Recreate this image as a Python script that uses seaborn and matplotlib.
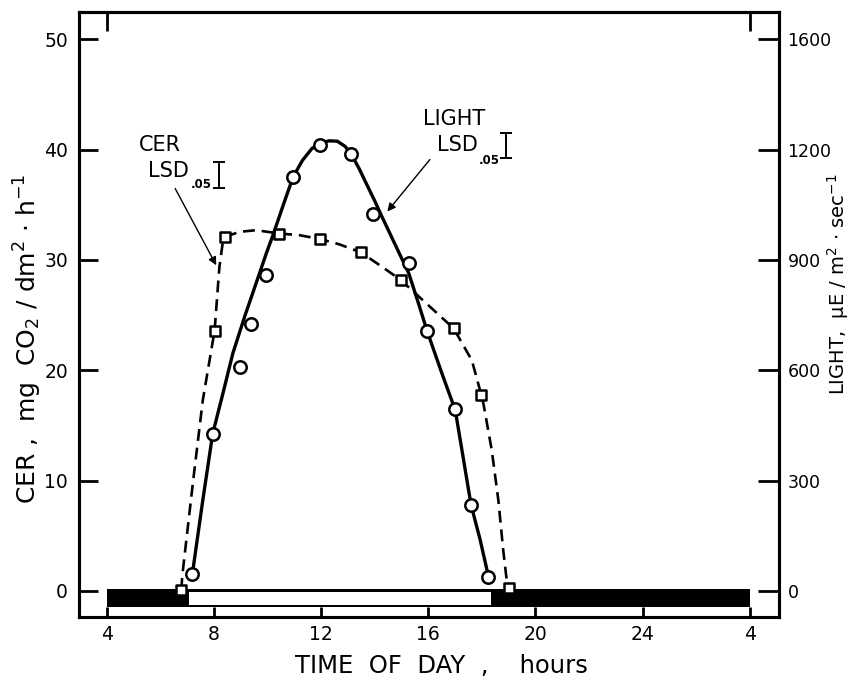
# CER and light over the day, circles = light (right axis), squares = CER (left axis)
import matplotlib
matplotlib.use("Agg")
import matplotlib.pyplot as plt
from matplotlib.patches import Rectangle
import seaborn as sns

# measured points
light_hours = [7.2, 7.96, 8.98, 9.39, 9.95, 10.96, 11.96, 13.11, 13.94, 15.28, 15.96, 17.01, 17.6, 18.25]
light_vals = [46, 426, 609, 726, 858, 1125, 1212, 1188, 1026, 891, 708, 495, 234, 39]

cer_hours = [6.79, 8.03, 8.43, 10.44, 11.96, 13.48, 14.97, 16.95, 17.98, 19.0]
cer_vals = [0.1, 23.6, 32.1, 32.4, 31.9, 30.7, 28.2, 23.8, 17.8, 0.3]

# hand-drawn fitted curves
light_curve_hours = [7.2, 7.59, 7.96, 8.34, 8.71, 9.17, 9.66, 9.96, 10.23, 10.59, 10.96,
                     11.31, 11.66, 11.96, 12.3, 12.61, 12.9, 13.11, 13.42, 13.69, 13.99,
                     14.28, 14.78, 15.28, 15.62, 15.96, 16.51, 17.01, 17.26, 17.6, 17.94,
                     18.25]
light_curve_vals = [46, 247, 428, 537, 646, 750, 854, 918, 972, 1049, 1126,
                    1171, 1203, 1217, 1224, 1223, 1209, 1190, 1149, 1108, 1063,
                    1017, 940, 863, 786, 707, 592, 492, 383, 234, 139,
                    39]

cer_curve_hours = [6.79, 6.82, 7.22, 7.59, 8.03, 8.21, 8.33, 8.43, 8.96, 9.58, 10.44, 11.19,
                   11.96, 12.67, 13.48, 14.28, 14.97, 15.96, 16.95, 17.63, 17.98, 18.06,
                   18.37, 18.62, 18.8, 18.93, 19.0]
cer_curve_vals = [0.1, 1.3, 9.8, 17.3, 23.6, 29.4, 31.5, 32.1, 32.55, 32.7, 32.4, 32.25,
                  31.9, 31.43, 30.7, 29.38, 28.2, 26.0, 23.8, 20.9, 17.8, 17.0,
                  12.8, 8.2, 3.7, 1.0, 0.3]

x_ticks = [4, 8, 12, 16, 20, 24, 28]
x_ticklabels = ["4", "8", "12", "16", "20", "24", "4"]
cer_ticks = [0, 10, 20, 30, 40, 50]
light_ticks = [0, 300, 600, 900, 1200, 1500]
light_ticklabels = ["0", "300", "600", "900", "1200", "1600"]

# light period bar along the bottom
dark_start, dark_end = 4, 28
lights_on, lights_off = 7.06, 18.36

sns.set_style("ticks")
plt.rcParams["font.family"] = ["DejaVu Sans"]
plt.rcParams["mathtext.default"] = "regular"
for k in ["text.color", "axes.labelcolor", "xtick.color", "ytick.color", "axes.edgecolor"]:
    plt.rcParams[k] = "black"

fig = plt.figure(figsize=(8.56, 6.84), dpi=100)
ax = fig.add_axes([0.0923, 0.098, 0.818, 0.884])
ax.set_xlim(2.97, 29.1)
ax.set_ylim(-2.36, 52.45)
ax2 = ax.twinx()
ax2.set_ylim(-2.36 * 30, 52.45 * 30)

# bottom bar
ax.add_patch(Rectangle((dark_start, -1.45), dark_end - dark_start, 1.63,
                       facecolor="black", edgecolor="none", zorder=2))
ax.add_patch(Rectangle((lights_on, -1.27), lights_off - lights_on, 1.18,
                       facecolor="white", edgecolor="none", zorder=2.1))

# CER: dashed curve + squares
sns.lineplot(x=cer_curve_hours, y=cer_curve_vals, ax=ax, color="black", lw=1.9,
             linestyle=(0, (4.5, 2.6)), sort=False, zorder=3)
sns.scatterplot(x=cer_hours, y=cer_vals, ax=ax, marker="s", s=62, facecolor="white",
                edgecolor="black", linewidth=1.8, zorder=5)

# light: solid curve + circles
sns.lineplot(x=light_curve_hours, y=light_curve_vals, ax=ax2, color="black", lw=2.4,
             sort=False, zorder=3)
sns.scatterplot(x=light_hours, y=light_vals, ax=ax2, marker="o", s=80, facecolor="white",
                edgecolor="black", linewidth=1.8, zorder=5)

# LSD bars
ax.errorbar([8.19], [37.7], yerr=[1.18], color="black", lw=1.4, capsize=4, capthick=1.4)
ax2.errorbar([18.91], [1212], yerr=[34], color="black", lw=1.4, capsize=4, capthick=1.4)

ax.text(5.98, 40.4, "CER", fontsize=15, ha="center", va="center")
ax.text(5.55, 38.1, "LSD", fontsize=15, ha="left", va="center")
ax.text(7.15, 36.8, ".05", fontsize=8.5, fontweight="bold", ha="left", va="center")
ax.annotate("", xy=(8.14, 29.3), xytext=(6.51, 36.7),
            arrowprops=dict(arrowstyle="-|>", color="black", lw=1, mutation_scale=12))

ax.text(16.95, 42.75, "LIGHT", fontsize=15, ha="center", va="center")
ax.text(16.33, 40.4, "LSD", fontsize=15, ha="left", va="center")
ax.text(17.87, 39.0, ".05", fontsize=8.5, fontweight="bold", ha="left", va="center")
ax.annotate("", xy=(14.41, 34.2), xytext=(16.13, 39.3),
            arrowprops=dict(arrowstyle="-|>", color="black", lw=1, mutation_scale=12))

# axes, ticks, labels
ax.set_xticks(x_ticks)
ax.set_xticklabels(x_ticklabels)
ax.set_yticks(cer_ticks)
ax2.set_yticks(light_ticks)
ax2.set_yticklabels(light_ticklabels)
ax.tick_params(axis="x", direction="in", length=7, width=2, pad=6, labelsize=13.5)
ax.tick_params(axis="y", direction="in", length=14, width=2, pad=8, labelsize=13.5)
ax2.tick_params(axis="y", direction="in", length=15, width=2, pad=6, labelsize=12.5)

top = ax.secondary_xaxis("top")
top.set_xticks([4, 28])
top.tick_params(direction="in", length=14, width=2, labeltop=False)

for a in (ax, ax2):
    for s in a.spines.values():
        s.set_linewidth(2.2)
top.spines["top"].set_linewidth(2.2)

ax.set_xlabel("TIME  OF  DAY  ,    hours", fontsize=17.5)
ax.xaxis.set_label_coords(0.517, -0.062)
ax.set_ylabel(r"CER ,  mg  CO$_2$ / dm$^2$ $\cdot$ h$^{-1}$", fontsize=18)
ax.yaxis.set_label_coords(-0.05, 0.46)
ax2.set_ylabel(r"LIGHT,  $\mu$E / m$^2$ $\cdot$ sec$^{-1}$", fontsize=14)
ax2.yaxis.set_label_coords(1.066, 0.55)

fig.savefig("out.png", dpi=100)
